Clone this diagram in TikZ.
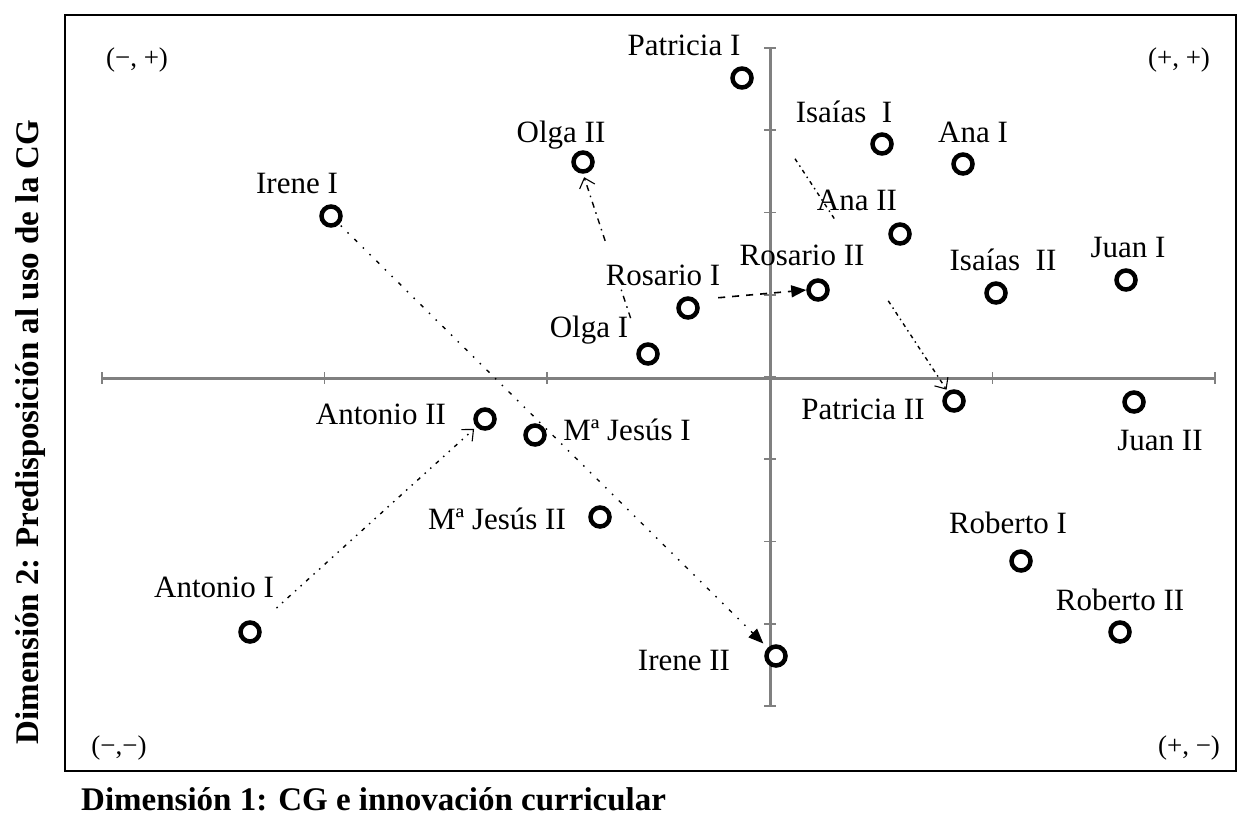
\documentclass[tikz,border=0pt]{standalone}
\usepackage{fontspec}
\setmainfont{Liberation Serif}
\usetikzlibrary{arrows.meta,calc}
\begin{document}
\begin{tikzpicture}[x=1pt,y=-1pt,
  pt/.style={circle,draw=black,line width=4.5pt,minimum size=19pt,inner sep=0pt,fill=white},
  lab/.style={font=\fontsize{31}{31}\selectfont,inner sep=0pt,text height=20pt,text depth=0pt},
  quad/.style={font=\fontsize{27}{27}\selectfont,inner sep=0pt,text height=18pt,text depth=0pt},
  axisline/.style={draw=black!50,line width=3pt},
  tickline/.style={draw=black!50,line width=1.6pt},
  ttl/.style={font=\bfseries\fontsize{33}{33}\selectfont,inner sep=0pt},
  ireneln/.style={line width=1.4pt,dash pattern=on 1.5pt off 8pt on 1.5pt off 8pt on 4pt off 8pt},
  antln/.style={line width=1.4pt,dash pattern=on 1.5pt off 6pt on 1.5pt off 6pt on 4pt off 6pt},
  olgaln/.style={line width=1.4pt,dash pattern=on 6pt off 5pt on 1.5pt off 5pt},
  rosln/.style={line width=1.6pt,dash pattern=on 7pt off 7pt},
  patln/.style={line width=1.4pt,dash pattern=on 4pt off 4pt on 1.5pt off 4pt},
  openhead/.style={-{Straight Barb[length=9pt,width=16pt,line width=1.1pt]}},
  fullhead/.style={-{Triangle[length=15pt,width=12pt]}}
]
\useasboundingbox (0,0) rectangle (1239,819);
% frame
\draw[line width=2.5pt] (65,15) rectangle (1236,771);
% axes
\draw[axisline] (102,378) -- (1215,378);
\draw[axisline] (770,48) -- (770,706);
\foreach \k in {0,...,5} \draw[tickline] ({102+222.6*\k},372) -- ++(0,12);
\foreach \k in {0,...,8} \draw[tickline] (764,{48+82.25*\k}) -- ++(12,0);
% quadrant labels
\node[quad] (q1) at (137,57) {(−, +)};
\node[quad] (q2) at (1179,57) {(+, +)};
\node[quad] (q3) at (119,745) {(−,−)};
\node[quad] (q4) at (1189,745) {(+, −)};
% axis titles
\node[ttl,rotate=90,anchor=base] (ytitle) at (38,432) {Dimensión 2: Predisposición al uso de la CG};
\node[ttl,anchor=base west] (xtitle) at (81,810) {Dimensión 1: CG e innovación curricular};
% points
\node[pt] (PatI) at (742,78) {};
\node[pt] (IsaI) at (882,144) {};
\node[pt] (AnaI) at (963,164) {};
\node[pt] (OlgaII) at (583,162) {};
\node[pt] (IreneI) at (331,216) {};
\node[pt] (AnaII) at (900,234) {};
\node[pt] (RosII) at (818,290) {};
\node[pt] (IsaII) at (996,293) {};
\node[pt] (JuanI) at (1126,280) {};
\node[pt] (RosI) at (688,308) {};
\node[pt] (OlgaI) at (648,354) {};
\node[pt] (PatII) at (954,401) {};
\node[pt] (JuanII) at (1134,402) {};
\node[pt] (AntII) at (485,419) {};
\node[pt] (MJI) at (535,435) {};
\node[pt] (MJII) at (600,517) {};
\node[pt] (RobI) at (1021,561) {};
\node[pt] (AntI) at (250,632) {};
\node[pt] (RobII) at (1120,632) {};
\node[pt] (IreneII) at (776,656) {};
% labels
\node[lab] (lPatI) at (684,45) {Patricia I};
\node[lab] (lIsaI) at (844,112) {Isaías\ \ I};
\node[lab] (lAnaI) at (973,132) {Ana I};
\node[lab] (lOlgaII) at (561,132) {Olga II};
\node[lab] (lIreneI) at (297,183) {Irene I};
\node[lab] (lAnaII) at (857,200) {Ana II};
\node[lab] (lRosII) at (802,255) {Rosario II};
\node[lab] (lIsaII) at (1003,260) {Isaías\ \ II};
\node[lab] (lJuanI) at (1128,247) {Juan I};
\node[lab] (lRosI) at (663,275) {Rosario I};
\node[lab] (lOlgaI) at (589,327) {Olga I};
\node[lab] (lAntII) at (381,414) {Antonio II};
\node[lab] (lMJI) at (627,430) {Mª Jesús I};
\node[lab] (lPatII) at (863,409) {Patricia II};
\node[lab] (lJuanII) at (1160,440) {Juan II};
\node[lab] (lMJII) at (497,519) {Mª Jesús II};
\node[lab] (lRobI) at (1008,523) {Roberto I};
\node[lab] (lRobII) at (1120,600) {Roberto II};
\node[lab] (lAntI) at (214,587) {Antonio I};
\node[lab] (lIreneII) at (684,660) {Irene II};
% trajectories
\draw[ireneln,fullhead,shorten <=2pt,shorten >=6pt] (IreneI) -- (IreneII);
\draw[antln,openhead,shorten <=24pt,shorten >=3pt] (AntI) -- (AntII);
\draw[rosln,fullhead,shorten <=22pt] (RosI.north east) -- (RosII.west);
\draw[olgaln] ($(OlgaI.north west)!0.16!(OlgaII.south)$) -- ($(OlgaI.north west)!0.33!(OlgaII.south)$);
\draw[olgaln,openhead] ($(OlgaI.north west)!0.61!(OlgaII.south)$) -- ($(OlgaI.north west)!0.98!(OlgaII.south)$);
\draw[patln] ($(PatI)!0.25!(PatII)$) -- ($(PatI)!0.44!(PatII)$);
\draw[patln,openhead] ($(PatI)!0.69!(PatII)$) -- ($(PatI)!0.965!(PatII)$);
\end{tikzpicture}
\end{document}
